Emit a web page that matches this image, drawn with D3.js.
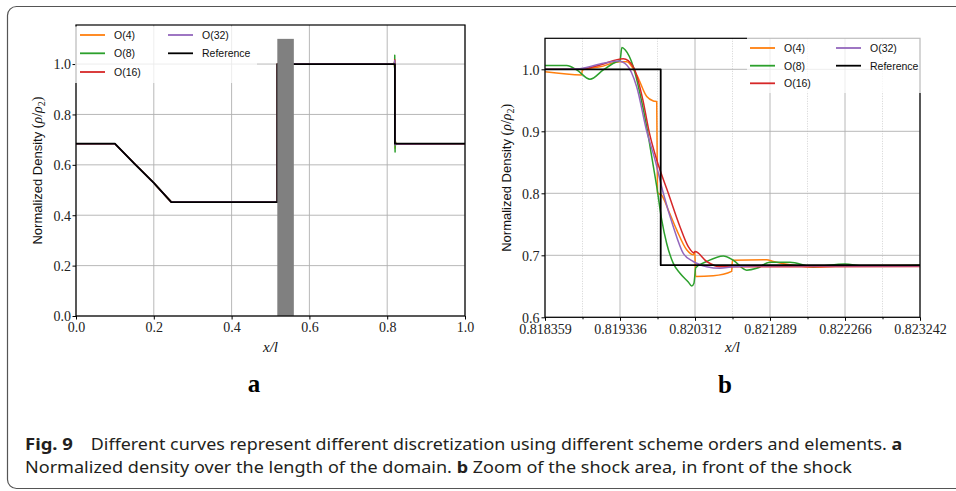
<!doctype html>
<html>
<head>
<meta charset="utf-8">
<title>Fig. 9 - Normalized density</title>
<style>
  body { margin: 0; background: #fff; }
  svg { display: block; }
  .tick text { font-family: "Liberation Serif", serif; font-size: 14px; fill: #222; }
  .tick line { stroke: #000; }
</style>
</head>
<body>
<svg></svg>
<script src="https://cdnjs.cloudflare.com/ajax/libs/d3/7.8.5/d3.min.js"></script>
<script>
// ---- data ----
var seriesNames = ["O(4)", "O(8)", "O(16)", "O(32)", "Reference"];

// full domain profile (outside of the zoomed shock region)
var baseProfile = [[0, 0.684], [0.1, 0.684], [0.15, 0.605], [0.2, 0.528], [0.245, 0.452],
  [0.5175, 0.452], [0.5176, 1.0], [0.818, 1.0]];
var baseTail = [[1.0, 0.684]];
var shadedRegion = [0.5175, 0.56, 1.1];   // x from, x to, top

// zoom of the shock
var o4Shock = [
  [0.818359, 0.996], [0.818837, 0.991], [0.818845, 0.999], [0.819075, 1.004], [0.819336, 1.012],
  [0.819423, 1.012], [0.819553, 0.991], [0.819684, 0.956], [0.819770, 0.949], [0.819814, 0.948],
  [0.819824, 0.801], [0.819879, 0.797], [0.819965, 0.773], [0.820074, 0.741], [0.820204, 0.709],
  [0.820290, 0.701], [0.820310, 0.706], [0.820320, 0.666], [0.820551, 0.667], [0.820790, 0.674],
  [0.820800, 0.692], [0.821246, 0.693], [0.821332, 0.690], [0.821637, 0.683], [0.821853, 0.681],
  [0.822288, 0.683], [0.823242, 0.6835]
];
var o8Shock = [
  [0.818359, 1.006], [0.818642, 1.006], [0.818772, 0.999], [0.818945, 0.984], [0.819118, 0.999],
  [0.819271, 1.011], [0.819336, 1.014], [0.819360, 1.035], [0.819405, 1.031], [0.819509, 1.004],
  [0.819596, 0.961], [0.819684, 0.907], [0.819749, 0.859], [0.819814, 0.811], [0.819879, 0.757],
  [0.819944, 0.719], [0.820030, 0.687], [0.820117, 0.671], [0.820225, 0.657], [0.820270, 0.6505],
  [0.820299, 0.655], [0.820322, 0.680], [0.820465, 0.690], [0.820681, 0.699], [0.820811, 0.692],
  [0.820986, 0.676], [0.821116, 0.679], [0.821289, 0.6887], [0.821549, 0.6887], [0.821853, 0.6816],
  [0.822266, 0.686], [0.822500, 0.683], [0.823242, 0.684]
];
var o16Shock = [
  [0.818359, 1.0], [0.818815, 1.0], [0.819075, 1.007], [0.819379, 1.017], [0.819509, 1.004],
  [0.819635, 0.950], [0.819714, 0.900], [0.819814, 0.854], [0.819965, 0.800], [0.820117, 0.746],
  [0.820225, 0.714], [0.820300, 0.704], [0.820315, 0.706], [0.820465, 0.690], [0.820638, 0.6816],
  [0.823242, 0.682]
];
var o32Shock = [
  [0.818359, 1.0], [0.818815, 1.001], [0.819075, 1.0085], [0.819314, 1.0134], [0.819423, 1.007],
  [0.819553, 0.972], [0.819684, 0.900], [0.819792, 0.854], [0.819900, 0.800], [0.820030, 0.746],
  [0.820160, 0.703], [0.820290, 0.690], [0.820465, 0.6816], [0.820638, 0.679], [0.820811, 0.6816],
  [0.821289, 0.683], [0.823242, 0.683]
];
var refShock = [[0.818359, 1.0], [0.819866, 1.0], [0.819866, 0.684], [0.823242, 0.684]];

var xTicksA = [0, 0.2, 0.4, 0.6, 0.8, 1.0];
var yTicksA = [0, 0.2, 0.4, 0.6, 0.8, 1.0];
var xTicksB = [0.818359375, 0.8193359375, 0.8203125, 0.8212890625, 0.822265625, 0.823242188];
var xLabelsB = ["0.818359", "0.819336", "0.820312", "0.821289", "0.822266", "0.823242"];
var yTicksB = [0.6, 0.7, 0.8, 0.9, 1.0];

// ---- styles ----
var colors = ["#ff7f0e", "#2ca02c", "#d62728", "#9467bd", "#000000"];
var shockData = [o4Shock, o8Shock, o16Shock, o32Shock, refShock];

var width = 956, height = 491;
var svg = d3.select("svg").attr("width", width).attr("height", height);

// outer figure frame
svg.append("rect")
  .attr("x", 7.5).attr("y", 6.5).attr("width", 990).attr("height", 482).attr("rx", 9)
  .attr("fill", "none").attr("stroke", "#555").attr("stroke-width", 1.2);

function fullProfile(shock) {
  return baseProfile.filter(function(d) { return d[0] < shock[0][0]; })
    .concat(shock, baseTail);
}

function grid(g, x, y, xt, yt, x0, x1, y0, y1) {
  g.selectAll(".gx").data(xt).enter().append("line")
    .attr("x1", function(d) { return x(d); }).attr("x2", function(d) { return x(d); })
    .attr("y1", y0).attr("y2", y1)
    .attr("stroke", "#b0b0b0").attr("stroke-width", 0.9);
  g.selectAll(".gy").data(yt).enter().append("line")
    .attr("y1", function(d) { return y(d); }).attr("y2", function(d) { return y(d); })
    .attr("x1", x0).attr("x2", x1)
    .attr("stroke", "#b0b0b0").attr("stroke-width", 0.9);
}

function legend(g, bx, by, bw, bh, col1x, col2x, rowY) {
  g.append("rect").attr("x", bx).attr("y", by).attr("width", bw).attr("height", bh)
    .attr("fill", "#fff").attr("fill-opacity", 0.75);
  var pos = [[col1x, rowY[0]], [col1x, rowY[1]], [col1x, rowY[2]], [col2x, rowY[0]], [col2x, rowY[1]]];
  seriesNames.forEach(function(name, i) {
    var p = pos[i];
    g.append("line").attr("x1", p[0]).attr("x2", p[0] + 25).attr("y1", p[1]).attr("y2", p[1])
      .attr("stroke", colors[i]).attr("stroke-width", 1.8);
    g.append("text").attr("x", p[0] + 34).attr("y", p[1] + 4)
      .style("font-family", "Liberation Sans, sans-serif").style("font-size", "10.5px")
      .attr("fill", "#111").text(name);
  });
}

function yLabel(x, y) {
  var t = svg.append("text")
    .attr("transform", "translate(" + x + "," + y + ") rotate(-90)")
    .attr("text-anchor", "middle").attr("fill", "#111")
    .style("font-family", "Liberation Sans, sans-serif").style("font-size", "13px");
  t.append("tspan").text("Normalized Density ");
  var serif = function(s) {
    return t.append("tspan").style("font-family", "Liberation Serif, serif").style("font-size", "14px").text(s);
  };
  serif("(");
  serif("ρ").style("font-style", "italic");
  serif("/");
  serif("ρ").style("font-style", "italic");
  serif("2").style("font-size", "10px").attr("dy", 3);
  serif(")").attr("dy", -3);
}

function xLabel(x, y) {
  svg.append("text").attr("x", x).attr("y", y).attr("text-anchor", "middle")
    .style("font-family", "Liberation Serif, serif").style("font-size", "15px")
    .style("font-style", "italic").attr("fill", "#111").text("x/l");
}

function panelLetter(x, y, s) {
  svg.append("text").attr("x", x).attr("y", y).attr("text-anchor", "middle")
    .style("font-family", "Liberation Serif, serif").style("font-size", "25px")
    .style("font-weight", "bold").attr("fill", "#000").text(s);
}

// ---------- panel a ----------
var xa = d3.scaleLinear().domain([0, 1]).range([76, 465]);
var ya = d3.scaleLinear().domain([0, 1.155]).range([316, 25]);
var ga = svg.append("g");
grid(ga, xa, ya, xTicksA, yTicksA, 76, 465, 25, 316);

var lineA = d3.line().x(function(d) { return xa(d[0]); }).y(function(d) { return ya(d[1]); });
shockData.forEach(function(s, i) {
  ga.append("path").datum(fullProfile(s)).attr("d", lineA)
    .attr("fill", "none").attr("stroke", colors[i])
    .attr("stroke-width", i === 4 ? 1.8 : 1.5).attr("stroke-linejoin", "round");
});
ga.append("rect")
  .attr("x", xa(shadedRegion[0])).attr("width", xa(shadedRegion[1]) - xa(shadedRegion[0]))
  .attr("y", ya(shadedRegion[2])).attr("height", ya(0) - ya(shadedRegion[2]))
  .attr("fill", "#808080");
ga.append("rect").attr("x", 76).attr("y", 25).attr("width", 389).attr("height", 291)
  .attr("fill", "none").attr("stroke", "#000").attr("stroke-width", 1.2);

ga.append("g").attr("transform", "translate(0,316)")
  .call(d3.axisBottom(xa).tickValues(xTicksA).tickFormat(d3.format(".1f")).tickSize(3.5).tickPadding(3))
  .call(function(g) { g.select(".domain").remove(); });
ga.append("g").attr("transform", "translate(76,0)")
  .call(d3.axisLeft(ya).tickValues(yTicksA).tickFormat(d3.format(".1f")).tickSize(3.5).tickPadding(1.5))
  .call(function(g) { g.select(".domain").remove(); })
  .selectAll("text").attr("dy", "0.35em");
legend(ga, 75, 26.5, 182, 56.5, 80, 168, [35, 53.3, 72]);
yLabel(41.5, 170.5);
xLabel(270.5, 352);
panelLetter(254, 392, "a");

// ---------- panel b ----------
var xb = d3.scaleLinear().domain([838 / 1024, 843 / 1024]).range([545, 920]);
var yb = d3.scaleLinear().domain([0.6, 1.05]).range([317.3, 38.3]);
var gb = svg.append("g");
var xMinorB = xTicksB.slice(1).map(function(t, i) { return (t + xTicksB[i]) / 2; });
gb.selectAll(".minor").data(xMinorB).enter().append("line")
  .attr("x1", function(d) { return xb(d); }).attr("x2", function(d) { return xb(d); })
  .attr("y1", 38.3).attr("y2", 317.3)
  .attr("stroke", "#c8c8c8").attr("stroke-width", 0.8).attr("stroke-dasharray", "1,1.5");
grid(gb, xb, yb, xTicksB, yTicksB, 545, 920, 38.3, 317.3);

var lineB = d3.line().x(function(d) { return xb(d[0]); }).y(function(d) { return yb(d[1]); });
shockData.forEach(function(s, i) {
  gb.append("path").datum(s)
    .attr("d", lineB.curve(i === 4 ? d3.curveLinear : d3.curveMonotoneX))
    .attr("fill", "none").attr("stroke", colors[i])
    .attr("stroke-width", i === 4 ? 1.8 : 1.5).attr("stroke-linejoin", "round");
});
gb.append("rect").attr("x", 545).attr("y", 38.3).attr("width", 375).attr("height", 279)
  .attr("fill", "none").attr("stroke", "#000").attr("stroke-width", 1.2);

gb.append("g").attr("transform", "translate(0,317.3)")
  .call(d3.axisBottom(xb).tickValues(xTicksB).tickFormat(function(d, i) { return xLabelsB[i]; })
    .tickSize(3.5).tickPadding(3))
  .call(function(g) { g.select(".domain").remove(); });
gb.append("g").attr("transform", "translate(0,317.3)")
  .call(d3.axisBottom(xb).tickValues(xMinorB).tickFormat("").tickSize(2))
  .call(function(g) { g.select(".domain").remove(); });
gb.append("g").attr("transform", "translate(545,0)")
  .call(d3.axisLeft(yb).tickValues(yTicksB).tickFormat(d3.format(".1f")).tickSize(3.5).tickPadding(2))
  .call(function(g) { g.select(".domain").remove(); })
  .selectAll("text").attr("dy", "0.35em");
legend(gb, 747, 37, 174, 56, 750, 836, [48, 65.7, 83.3]);
yLabel(511, 177.8);
xLabel(732.5, 352);
panelLetter(725, 393, "b");

// ---------- caption ----------
function fitText(sel, x, y, target) {
  var w = sel.node().getBBox().width;
  sel.attr("transform", "translate(" + x + "," + y + ") scale(" + (target / w) + ",1)");
}
function capText() {
  return svg.append("text").attr("x", 0).attr("y", 0).attr("fill", "#231f20")
    .style("font-family", "Noto Sans, sans-serif").style("font-size", "16px");
}
var c1 = capText().style("font-weight", "bold").text("Fig. 9");
fitText(c1, 25, 450, 48);
var c2 = capText();
c2.append("tspan").text("Different curves represent different discretization using different scheme orders and elements. ");
c2.append("tspan").style("font-weight", "bold").text("a");
fitText(c2, 90.7, 450, 812);
var c3 = capText();
c3.append("tspan").text("Normalized density over the length of the domain. ");
c3.append("tspan").style("font-weight", "bold").text("b");
c3.append("tspan").text(" Zoom of the shock area, in front of the shock");
fitText(c3, 25, 473, 828);
</script>
</body>
</html>
